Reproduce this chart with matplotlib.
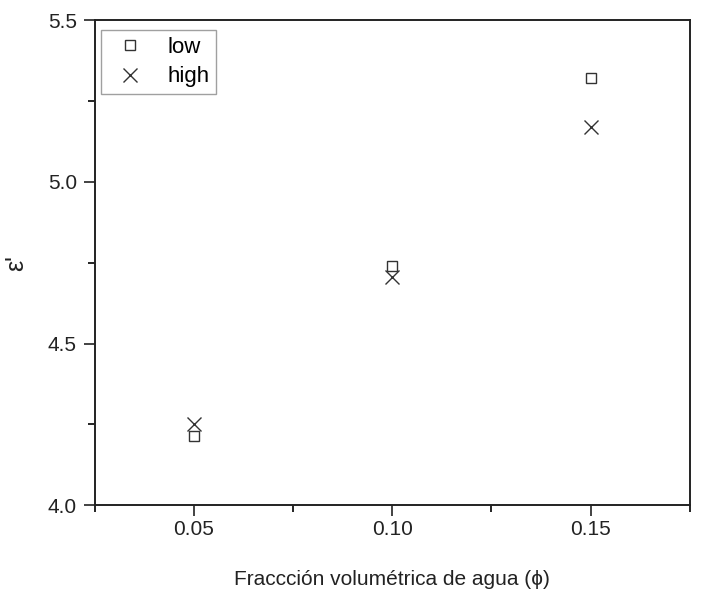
import matplotlib
matplotlib.use('Agg')
import matplotlib.pyplot as plt
from matplotlib.ticker import MultipleLocator

plt.rcParams['font.family'] = ['Liberation Sans', 'DejaVu Sans']

phi = [0.05, 0.10, 0.15]
eps_low = [4.213, 4.740, 5.322]
eps_high = [4.250, 4.706, 5.170]

fig = plt.figure(figsize=(7.03, 5.95), dpi=100)
ax = fig.add_axes([0.135, 0.151, 0.846, 0.815])

ax.plot(phi, eps_low, linestyle='none', marker='s', markersize=7,
        markerfacecolor='white', markeredgecolor='#333333', markeredgewidth=1.0, label='low')
ax.plot(phi, eps_high, linestyle='none', marker='x', markersize=10,
        color='#333333', markeredgewidth=1.0, label='high')

ax.set_xlim(0.025, 0.175)
ax.set_ylim(4.0, 5.5)
ax.xaxis.set_minor_locator(MultipleLocator(0.025))
ax.yaxis.set_minor_locator(MultipleLocator(0.25))
ax.set_xticks([0.05, 0.10, 0.15])
ax.set_xticklabels(['0.05', '0.10', '0.15'])
ax.set_yticks([4.0, 4.5, 5.0, 5.5])
ax.set_yticklabels(['4.0', '4.5', '5.0', '5.5'])
ax.tick_params(which='major', direction='out', length=8, width=1.2, labelsize=15,
               colors='#222222', pad=3)
ax.tick_params(which='minor', direction='out', length=5, width=1.2)
ax.tick_params(axis='y', which='major', pad=5)
for s in ax.spines.values():
    s.set_linewidth(1.4)
    s.set_color('#222222')

ax.set_xlabel('Fraccción volumétrica de agua (ϕ)', fontsize=15, labelpad=22, color='#222222')
ax.set_ylabel("ε'", fontsize=18, labelpad=14, color='#222222')

leg = ax.legend(loc='upper left', fontsize=16, frameon=True, fancybox=False,
                edgecolor='#888888', handletextpad=0.7, borderpad=0.3,
                labelspacing=0.4, handlelength=2.0, borderaxespad=0.0,
                bbox_to_anchor=(0.01, 0.98))
leg.get_frame().set_linewidth(1.0)

fig.savefig('out.png', dpi=100)
